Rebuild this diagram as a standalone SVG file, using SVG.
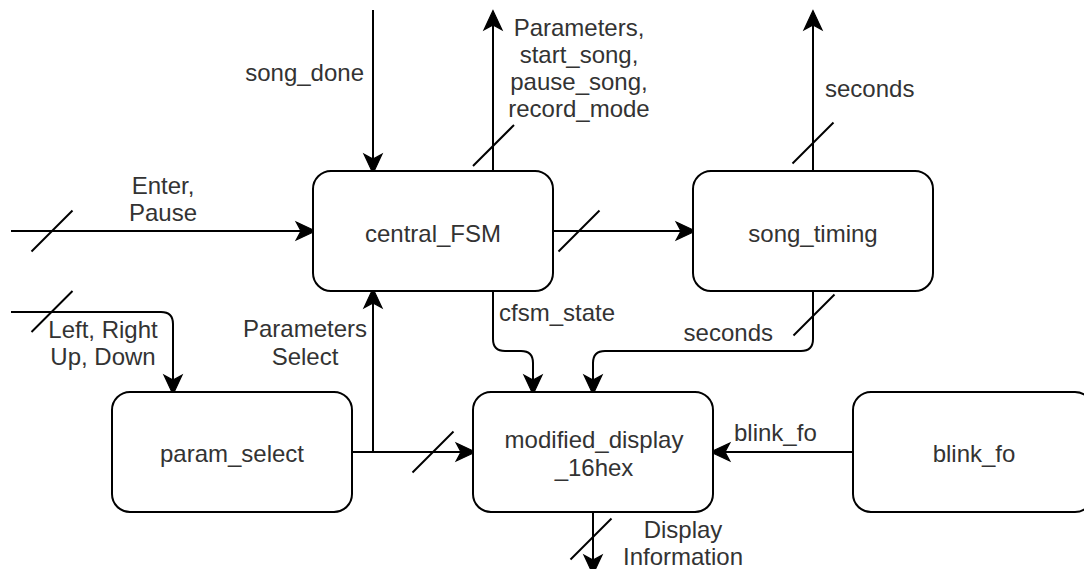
<svg xmlns="http://www.w3.org/2000/svg" width="1084" height="569" viewBox="0 0 1084 569">
  <style>
    .box { fill: #ffffff; stroke: #000000; stroke-width: 2; }
    .wire { fill: none; stroke: #000000; stroke-width: 2; }
    .bus { fill: none; stroke: #000000; stroke-width: 2; }
    text { font-family: "Liberation Sans", Arial, Helvetica, sans-serif; font-size: 24px; fill: #333333; }
    .c { text-anchor: middle; }
    .e { text-anchor: end; }
  </style>
  <defs>
    <!-- classic notched arrowhead; path ends at the notch, tip sits 12px further -->
    <marker id="arrow" markerUnits="userSpaceOnUse" markerWidth="24" markerHeight="24" viewBox="-6 -10 20 20" refX="0" refY="0" orient="auto" overflow="visible">
      <path d="M12,0 L-4,-7.5 L0,0 L-4,7.5 Z" fill="#000000" stroke="#000000" stroke-width="1"/>
    </marker>
  </defs>

  <rect width="1084" height="569" fill="#ffffff"/>

  <!-- connectors -->
  <g id="connectors">
    <!-- Enter, Pause into central_FSM -->
    <path class="wire" d="M11,231 H301" marker-end="url(#arrow)"/>
    <path class="bus" d="M31.5,251.5 L72.5,210.5"/>
    <!-- song_done into central_FSM -->
    <path class="wire" d="M373,10 V159" marker-end="url(#arrow)"/>
    <!-- central_FSM outputs upward -->
    <path class="wire" d="M493,171 V25" marker-end="url(#arrow)"/>
    <path class="bus" d="M473,166 L514,125"/>
    <!-- central_FSM to song_timing -->
    <path class="wire" d="M553,231 H681" marker-end="url(#arrow)"/>
    <path class="bus" d="M558.5,251.5 L599.5,210.5"/>
    <!-- song_timing seconds upward -->
    <path class="wire" d="M813,171 V25" marker-end="url(#arrow)"/>
    <path class="bus" d="M792.5,163.5 L833.5,122.5"/>
    <!-- cfsm_state into modified_display_16hex -->
    <path class="wire" d="M493,291 V339 Q493,351 505,351 H521 Q533,351 533,363 V380" marker-end="url(#arrow)"/>
    <!-- seconds into modified_display_16hex -->
    <path class="wire" d="M813,291 V339 Q813,351 801,351 H605 Q593,351 593,363 V380" marker-end="url(#arrow)"/>
    <path class="bus" d="M793.5,335.5 L834.5,294.5"/>
    <!-- Left, Right, Up, Down into param_select -->
    <path class="wire" d="M11,312 H161 Q173,312 173,324 V380" marker-end="url(#arrow)"/>
    <path class="bus" d="M31.5,332 L72.5,291"/>
    <!-- param_select to modified_display_16hex -->
    <path class="wire" d="M352,452 H461" marker-end="url(#arrow)"/>
    <path class="bus" d="M412.5,472.5 L453.5,431.5"/>
    <!-- Parameters Select back to central_FSM -->
    <path class="wire" d="M373,452 V303" marker-end="url(#arrow)"/>
    <!-- blink_fo to modified_display_16hex -->
    <path class="wire" d="M853,452 H725" marker-end="url(#arrow)"/>
    <!-- Display Information out -->
    <path class="wire" d="M593,512 V560" marker-end="url(#arrow)"/>
    <path class="bus" d="M570.5,559.5 L611.5,518.5"/>

    <!-- connector labels -->
    <text class="c" x="163" y="194">Enter,</text>
    <text class="c" x="163" y="221">Pause</text>
    <text class="e" x="364" y="81">song_done</text>
    <text class="c" x="579" y="36">Parameters,</text>
    <text class="c" x="579" y="63">start_song,</text>
    <text class="c" x="579" y="90">pause_song,</text>
    <text class="c" x="579" y="117">record_mode</text>
    <text x="825" y="97">seconds</text>
    <text x="499" y="321">cfsm_state</text>
    <text class="e" x="773" y="341">seconds</text>
    <text class="c" x="305" y="337">Parameters</text>
    <text class="c" x="305" y="365">Select</text>
    <text class="c" x="103" y="338">Left, Right</text>
    <text class="c" x="103" y="365">Up, Down</text>
    <text x="734" y="441">blink_fo</text>
    <text class="c" x="683" y="538">Display</text>
    <text class="c" x="683" y="565">Information</text>
  </g>

  <!-- nodes -->
  <g id="central_FSM">
    <rect class="box" x="313" y="171" width="240" height="120" rx="18" ry="18"/>
    <text class="c" x="433" y="242">central_FSM</text>
  </g>
  <g id="song_timing">
    <rect class="box" x="693" y="171" width="240" height="120" rx="18" ry="18"/>
    <text class="c" x="813" y="242">song_timing</text>
  </g>
  <g id="param_select">
    <rect class="box" x="112" y="392" width="240" height="120" rx="18" ry="18"/>
    <text class="c" x="232" y="462">param_select</text>
  </g>
  <g id="modified_display_16hex">
    <rect class="box" x="473" y="392" width="240" height="120" rx="18" ry="18"/>
    <text class="c" x="594" y="448">modified_display</text>
    <text class="c" x="594" y="476">_16hex</text>
  </g>
  <g id="blink_fo">
    <rect class="box" x="853" y="392" width="240" height="120" rx="18" ry="18"/>
    <text class="c" x="974" y="462">blink_fo</text>
  </g>
</svg>
